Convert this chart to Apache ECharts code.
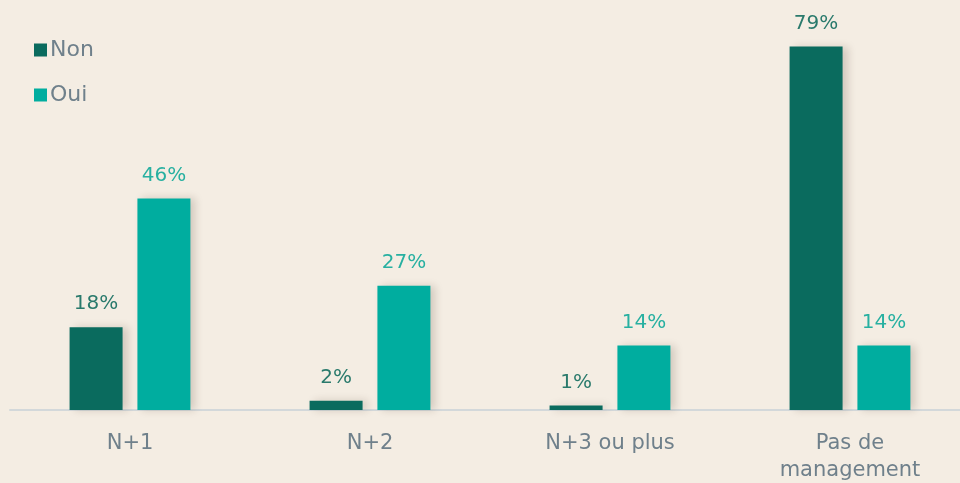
<!DOCTYPE html>
<html><head><meta charset="utf-8">
<script src="https://cdn.jsdelivr.net/npm/echarts@6/dist/echarts.min.js"></script>
<style>html,body{margin:0;padding:0;background:#F4EDE3;}#c{width:960px;height:483px;}</style>
</head><body><div id="c"></div>
<script>
const categories = ['N+1', 'N+2', 'N+3 ou plus', 'Pas de\nmanagement'];
const nonValues = [18, 2, 1, 79];
const ouiValues = [46, 27, 14, 14];
const seriesNames = ['Non', 'Oui'];

const FONT = '"DejaVu Sans", sans-serif';
const chart = echarts.init(document.getElementById('c'));
const barShadow = {shadowBlur: 8, shadowOffsetX: 5, shadowOffsetY: 0, shadowColor: 'rgba(60,40,20,0.18)'};
chart.setOption({
  backgroundColor: '#F4EDE3',
  animation: false,
  legend: {
    orient: 'vertical', left: 29, top: 34,
    itemWidth: 13, itemHeight: 13, itemGap: 23,
    icon: 'rect',
    textStyle: {fontFamily: FONT, fontSize: 22, fontWeight: 'normal', color: '#6F808B', padding: [0,0,0,-2]},
    data: seriesNames
  },
  grid: {left: 10, right: -10, top: 42, bottom: 73, containLabel: false, outerBoundsMode: 'none'},
  xAxis: {
    type: 'category', data: categories,
    axisLine: {lineStyle: {color: '#D3D8DA', width: 2}},
    axisTick: {show: false},
    axisLabel: {fontFamily: FONT, fontSize: 21, color: '#6F808B', margin: 20, lineHeight: 27, interval: 0}
  },
  yAxis: {type: 'value', min: 0, max: 80, show: false, splitLine: {show: false}},
  series: [
    {
      name: 'Non', type: 'bar', data: nonValues, barWidth: 53, barGap: '28%',
      itemStyle: Object.assign({color: '#0A6B5E'}, barShadow),
      label: {show: true, position: 'top', distance: 13, formatter: '{c}%', fontFamily: FONT, fontSize: 20, color: '#2A7A6C'}
    },
    {
      name: 'Oui', type: 'bar', data: ouiValues, barWidth: 53,
      itemStyle: Object.assign({color: '#00AD9F'}, barShadow),
      label: {show: true, position: 'top', distance: 13, formatter: '{c}%', fontFamily: FONT, fontSize: 20, color: '#27B0A1'}
    }
  ]
});
</script></body></html>
